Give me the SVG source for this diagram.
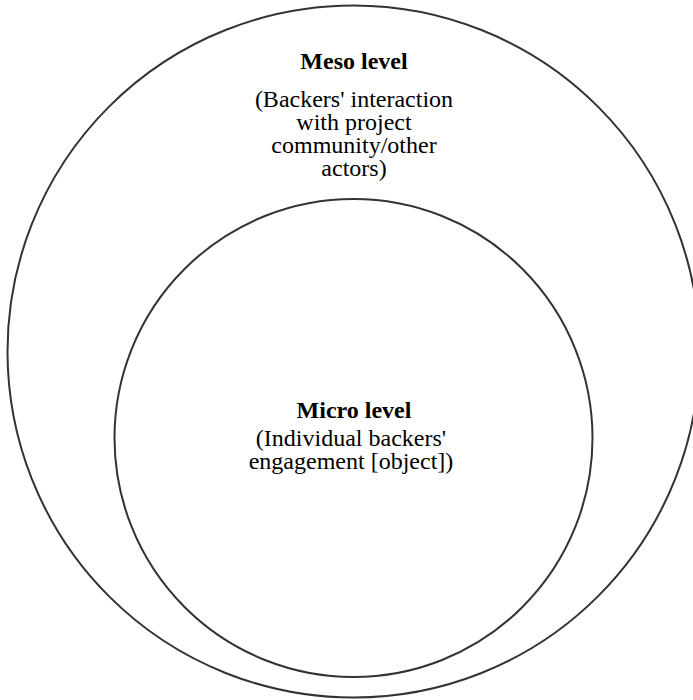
<svg xmlns="http://www.w3.org/2000/svg" width="693" height="700" viewBox="0 0 693 700">
  <style>
    .ring { fill: none; stroke: #333333; stroke-width: 2; }
    .title { font-family: "Liberation Serif", "Times New Roman", serif; font-size: 24px; font-weight: bold; fill: #000000; text-anchor: middle; }
    .body { font-family: "Liberation Serif", "Times New Roman", serif; font-size: 24px; fill: #000000; text-anchor: middle; }
  </style>
  <rect width="693" height="700" fill="#ffffff"/>
  <!-- Outer level: meso -->
  <g id="meso">
    <circle class="ring" cx="353.5" cy="351.5" r="346"/>
    <text class="title" x="354" y="69">Meso level</text>
    <text class="body" x="354" y="107">(Backers' interaction</text>
    <text class="body" x="354" y="130">with project</text>
    <text class="body" x="354" y="153">community/other</text>
    <text class="body" x="354" y="176">actors)</text>
  </g>
  <!-- Inner level: micro -->
  <g id="micro">
    <circle class="ring" cx="353.5" cy="438" r="239"/>
    <text class="title" x="354" y="418">Micro level</text>
    <text class="body" x="351" y="446">(Individual backers'</text>
    <text class="body" x="351" y="469">engagement [object])</text>
  </g>
  <g id="connectors"></g>
</svg>
